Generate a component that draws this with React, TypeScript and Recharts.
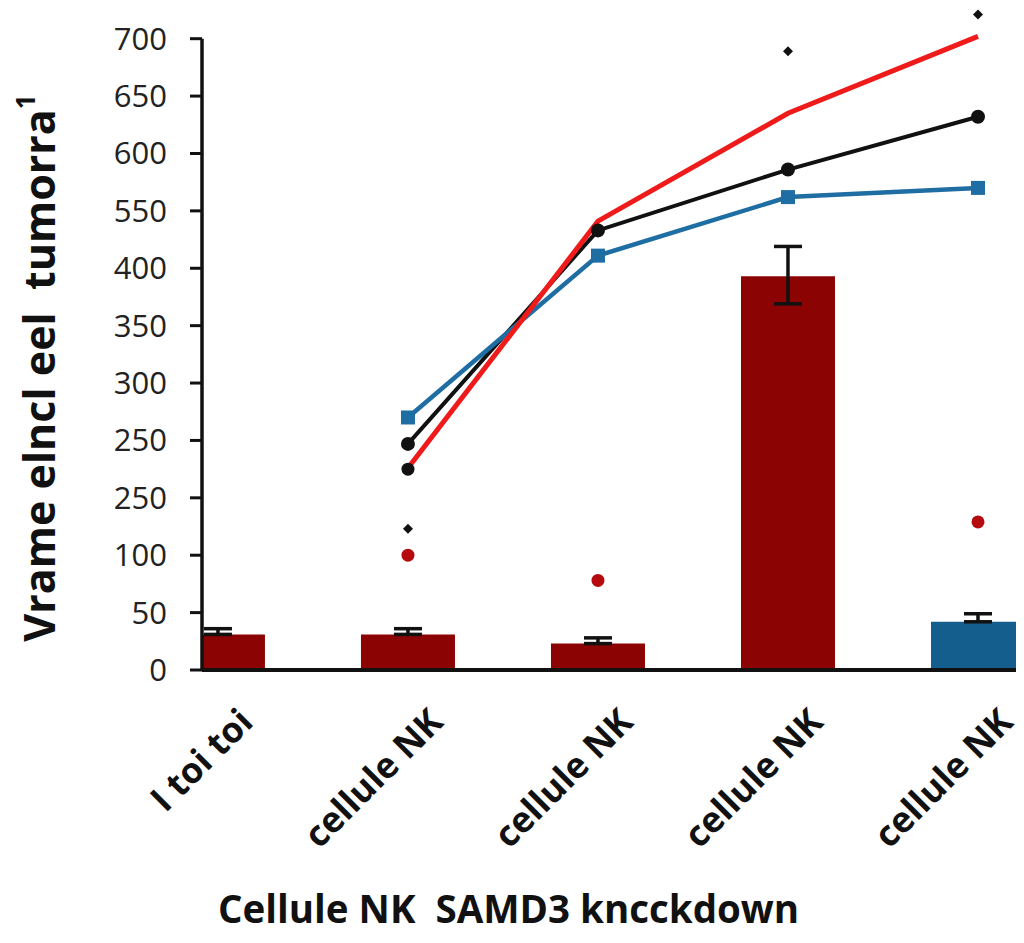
import {
  Bar,
  Cell,
  ComposedChart,
  ErrorBar,
  Line,
  ReferenceLine,
  XAxis,
  YAxis,
} from 'recharts';

const categories = ['I toi toi', 'cellule NK', 'cellule NK', 'cellule NK', 'cellule NK'];
const positions = [0, 1, 2, 3, 4];

// the axis runs in even steps of 50 per tick, the printed labels are irregular
const yTicks = [0, 50, 100, 150, 200, 250, 300, 350, 400, 450, 500, 550];
const yTickLabels = ['0', '50', '100', '250', '250', '300', '350', '400', '550', '600', '650', '700'];

const barValues = [31, 31, 23, 343, 42];
const errDown = [0, 0, 0, 24, 0];
const errUp = [5, 5, 5, 26, 7];

const redLine = [null, 176, 391, 485, 552];
const blackLine = [null, 197, 383, 436, 482];
const blueLine = [null, 220, 361, 412, 420];

// loose points around the lines
const blackBigDots = [null, 175, null, null, null];
const blackSmallDots = [null, 123, null, 539, 571];
const redDots = [null, 100, 78, null, 129];

const data = categories.map((name, i) => ({
  pos: positions[i],
  name,
  bar: barValues[i],
  err: [errDown[i], errUp[i]],
  red: redLine[i],
  black: blackLine[i],
  blue: blueLine[i],
  blackBig: blackBigDots[i],
  blackSmall: blackSmallDots[i],
  redDot: redDots[i],
}));

// the first bar starts a little left of the y axis and is cut by it
const X_MIN = -0.084;
const X_MAX = 4.5;

const INK = '#111';
const DARK_RED = '#8c0303';
const BAR_BLUE = '#135e8c';
const LINE_BLUE = '#1f6ea3';
const LINE_RED = '#ef1b1b';
const DOT_RED = '#b50a0e';
const FONT = '"Open Sans", "DejaVu Sans", sans-serif';
const barFills = [DARK_RED, DARK_RED, DARK_RED, DARK_RED, BAR_BLUE];

const circleDot = (fill: string, r: number) => (p: any) =>
  p.value == null || p.cy == null ? (
    <g key={`c${p.index}`} />
  ) : (
    <circle key={`c${p.index}`} cx={p.cx} cy={p.cy} r={r} fill={fill} />
  );

const squareDot = (fill: string, s: number) => (p: any) =>
  p.value == null || p.cy == null ? (
    <g key={`s${p.index}`} />
  ) : (
    <rect key={`s${p.index}`} x={p.cx - s / 2} y={p.cy - s / 2} width={s} height={s} fill={fill} />
  );

const diamondDot = (fill: string, r: number) => (p: any) =>
  p.value == null || p.cy == null ? (
    <g key={`d${p.index}`} />
  ) : (
    <path
      key={`d${p.index}`}
      d={`M${p.cx},${p.cy - r}L${p.cx + r},${p.cy}L${p.cx},${p.cy + r}L${p.cx - r},${p.cy}Z`}
      fill={fill}
    />
  );

const XTick = ({ x, y, payload }: any) => (
  <g transform={`translate(${x + 37},${y + 54})`}>
    <text
      transform="rotate(-45)"
      textAnchor="end"
      fontSize={35.5}
      fontWeight={700}
      fontFamily={FONT}
      fill={INK}
    >
      {categories[positions.indexOf(payload.value)]}
    </text>
  </g>
);

const YTitle = ({ viewBox }: any) => {
  const x = viewBox.x + 47;
  const y = viewBox.y + viewBox.height / 2 + 28;
  return (
    <text
      x={x}
      y={y}
      transform={`rotate(-90, ${x}, ${y})`}
      textAnchor="middle"
      fontSize={43}
      fontWeight={700}
      fontFamily={FONT}
      fill={INK}
      style={{ whiteSpace: 'pre' }}
    >
      Vrame elncl eel  tumorra
      <tspan dy={-20} fontSize={26}>
        1
      </tspan>
    </text>
  );
};

const XTitle = ({ viewBox }: any) => (
  <text
    x={viewBox.x + 16}
    y={viewBox.y + 253}
    fontSize={38.5}
    fontWeight={700}
    fontFamily={FONT}
    fill={INK}
    style={{ whiteSpace: 'pre' }}
  >
    Cellule NK  SAMD3 kncckdown
  </text>
);

export default function App() {
  return (
    <div style={{ width: 1016, height: 935, overflow: 'hidden' }}>
      <style>{'body{overflow:hidden}'}</style>
      <ComposedChart
        width={1070}
        height={935}
        data={data}
        margin={{ top: 2, right: 5, bottom: 0, left: 0 }}
      >
        <XAxis
          dataKey="pos"
          type="number"
          domain={[X_MIN, X_MAX]}
          ticks={positions}
          interval={0}
          allowDataOverflow
          tick={<XTick />}
          tickLine={false}
          tickSize={0}
          tickMargin={0}
          axisLine={{ stroke: INK, strokeWidth: 4 }}
          height={273}
          label={XTitle}
        />
        <YAxis
          type="number"
          domain={[0, 575]}
          ticks={yTicks}
          interval={0}
          width={194}
          axisLine={false}
          tickLine={{ stroke: INK, strokeWidth: 3 }}
          tickSize={12}
          tickMargin={23}
          tick={{ fill: '#222', fontSize: 31, fontFamily: FONT }}
          tickFormatter={(v: number) => yTickLabels[yTicks.indexOf(v)]}
          label={YTitle}
        />
        <ReferenceLine
          segment={[
            { x: X_MIN, y: 0 },
            { x: X_MIN, y: 550 },
          ]}
          ifOverflow="visible"
          stroke={INK}
          strokeWidth={3.5}
        />
        <Bar dataKey="bar" barSize={94} isAnimationActive={false}>
          {data.map((d, i) => (
            <Cell key={d.pos} fill={barFills[i]} />
          ))}
          <ErrorBar dataKey="err" width={14} stroke={INK} strokeWidth={3.5} direction="y" />
        </Bar>
        <Line
          dataKey="redDot"
          stroke="none"
          dot={circleDot(DOT_RED, 6.5)}
          activeDot={false}
          legendType="none"
          isAnimationActive={false}
        />
        <Line
          dataKey="blackSmall"
          stroke="none"
          dot={diamondDot(INK, 5)}
          activeDot={false}
          legendType="none"
          isAnimationActive={false}
        />
        <Line
          dataKey="blackBig"
          stroke="none"
          dot={circleDot(INK, 6.5)}
          activeDot={false}
          legendType="none"
          isAnimationActive={false}
        />
        <Line
          type="linear"
          dataKey="black"
          stroke={INK}
          strokeWidth={4}
          dot={circleDot(INK, 7)}
          activeDot={false}
          isAnimationActive={false}
        />
        <Line
          type="linear"
          dataKey="blue"
          stroke={LINE_BLUE}
          strokeWidth={4.5}
          dot={squareDot(LINE_BLUE, 14)}
          activeDot={false}
          isAnimationActive={false}
        />
        <Line
          type="linear"
          dataKey="red"
          stroke={LINE_RED}
          strokeWidth={5}
          dot={false}
          activeDot={false}
          isAnimationActive={false}
        />
      </ComposedChart>
    </div>
  );
}
